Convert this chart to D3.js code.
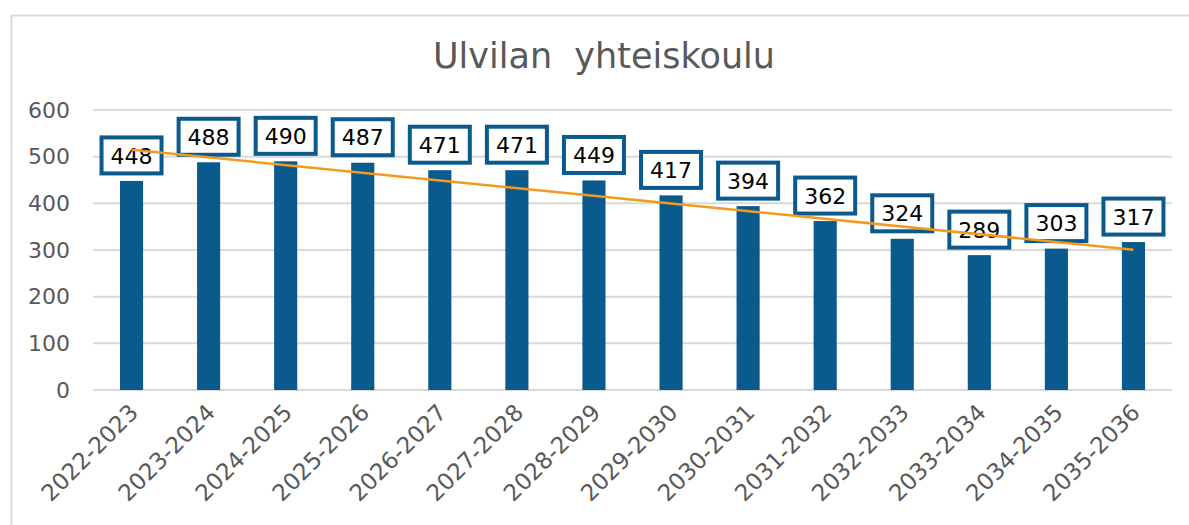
<!DOCTYPE html>
<html>
<head>
<meta charset="utf-8">
<script src="https://cdn.jsdelivr.net/npm/d3@7"></script>
<style>
body { margin: 0; background: #fff; }
svg { display: block; }
</style>
</head>
<body>
<svg id="chart" width="1189" height="525"></svg>
<script>
var years = ["2022-2023","2023-2024","2024-2025","2025-2026","2026-2027","2027-2028","2028-2029",
             "2029-2030","2030-2031","2031-2032","2032-2033","2033-2034","2034-2035","2035-2036"];
var pupils = [448, 488, 490, 487, 471, 471, 449, 417, 394, 362, 324, 289, 303, 317];
var yTicks = [0, 100, 200, 300, 400, 500, 600];

var barColor = "#0a5a8e";
var trendColor = "#f39a1e";
var font = "DejaVu Sans, Verdana, sans-serif";

var svg = d3.select("#chart");
var plotLeft = 93, plotRight = 1172, plotTop = 110, plotBottom = 390;

// chart area frame (only top and left visible)
svg.append("path")
   .attr("d", "M11.5,600 L11.5,15.5 L1189,15.5")
   .attr("fill", "none")
   .attr("stroke", "#d9d9d9")
   .attr("stroke-width", 2);

svg.append("text")
   .attr("x", 604)
   .attr("y", 68)
   .attr("text-anchor", "middle")
   .attr("font-family", font)
   .attr("font-size", "35px")
   .attr("fill", "#595959")
   .style("white-space", "pre")
   .text("Ulvilan  yhteiskoulu");

var xScale = d3.scaleBand().domain(years).range([plotLeft, plotRight]).paddingInner(0.7).paddingOuter(0.35);
var yScale = d3.scaleLinear().domain([0, 600]).range([plotBottom, plotTop]);

// gridlines
svg.append("g")
   .selectAll("line")
   .data(yTicks)
   .enter().append("line")
   .attr("x1", plotLeft)
   .attr("x2", plotRight)
   .attr("y1", function(d) { return yScale(d); })
   .attr("y2", function(d) { return yScale(d); })
   .attr("stroke", "#d9d9d9")
   .attr("stroke-width", 2);

var yAxis = svg.append("g")
   .attr("transform", "translate(" + plotLeft + ",0)")
   .call(d3.axisLeft(yScale).tickValues(yTicks).tickSize(0).tickPadding(23));
yAxis.select(".domain").remove();
yAxis.selectAll("text")
   .attr("font-family", font)
   .attr("font-size", "22px")
   .attr("fill", "#595959");

var xAxis = svg.append("g")
   .attr("transform", "translate(0," + plotBottom + ")")
   .call(d3.axisBottom(xScale).tickSize(0));
xAxis.select(".domain").remove();
xAxis.selectAll("text")
   .attr("font-family", font)
   .attr("font-size", "23px")
   .attr("fill", "#595959")
   .attr("text-anchor", "end")
   .attr("dy", 0)
   .attr("y", 0)
   .attr("transform", "translate(8,24) rotate(-45)");

// bars
svg.selectAll(".bar")
   .data(pupils)
   .enter().append("rect")
   .attr("class", "bar")
   .attr("x", function(d, i) { return xScale(years[i]); })
   .attr("y", function(d) { return yScale(d); })
   .attr("width", xScale.bandwidth())
   .attr("height", function(d) { return plotBottom - yScale(d); })
   .attr("fill", barColor);

var cx = function(i) { return xScale(years[i]) + xScale.bandwidth() / 2; };

// data labels
var lab = svg.selectAll(".lab")
   .data(pupils)
   .enter().append("g")
   .attr("class", "lab")
   .attr("transform", function(d, i) { return "translate(" + cx(i) + "," + (yScale(d) - 25.5) + ")"; });
lab.append("rect")
   .attr("x", -30)
   .attr("y", -18)
   .attr("width", 60)
   .attr("height", 36)
   .attr("fill", "#fff")
   .attr("stroke", barColor)
   .attr("stroke-width", 4);
lab.append("text")
   .attr("text-anchor", "middle")
   .attr("dy", "0.37em")
   .attr("font-family", font)
   .attr("font-size", "22px")
   .attr("fill", "#000")
   .text(function(d) { return d; });

// linear trendline (least squares over the bars), drawn on top like the original
var n = pupils.length;
var mx = d3.mean(pupils, function(d, i) { return i; });
var my = d3.mean(pupils);
var sxy = d3.sum(pupils, function(d, i) { return (i - mx) * (d - my); });
var sxx = d3.sum(pupils, function(d, i) { return (i - mx) * (i - mx); });
var slope = sxy / sxx;
svg.append("line")
   .attr("x1", cx(0))
   .attr("y1", yScale(my + slope * (0 - mx)))
   .attr("x2", cx(n - 1))
   .attr("y2", yScale(my + slope * (n - 1 - mx)))
   .attr("stroke", trendColor)
   .attr("stroke-width", 2.5);
</script>
</body>
</html>
